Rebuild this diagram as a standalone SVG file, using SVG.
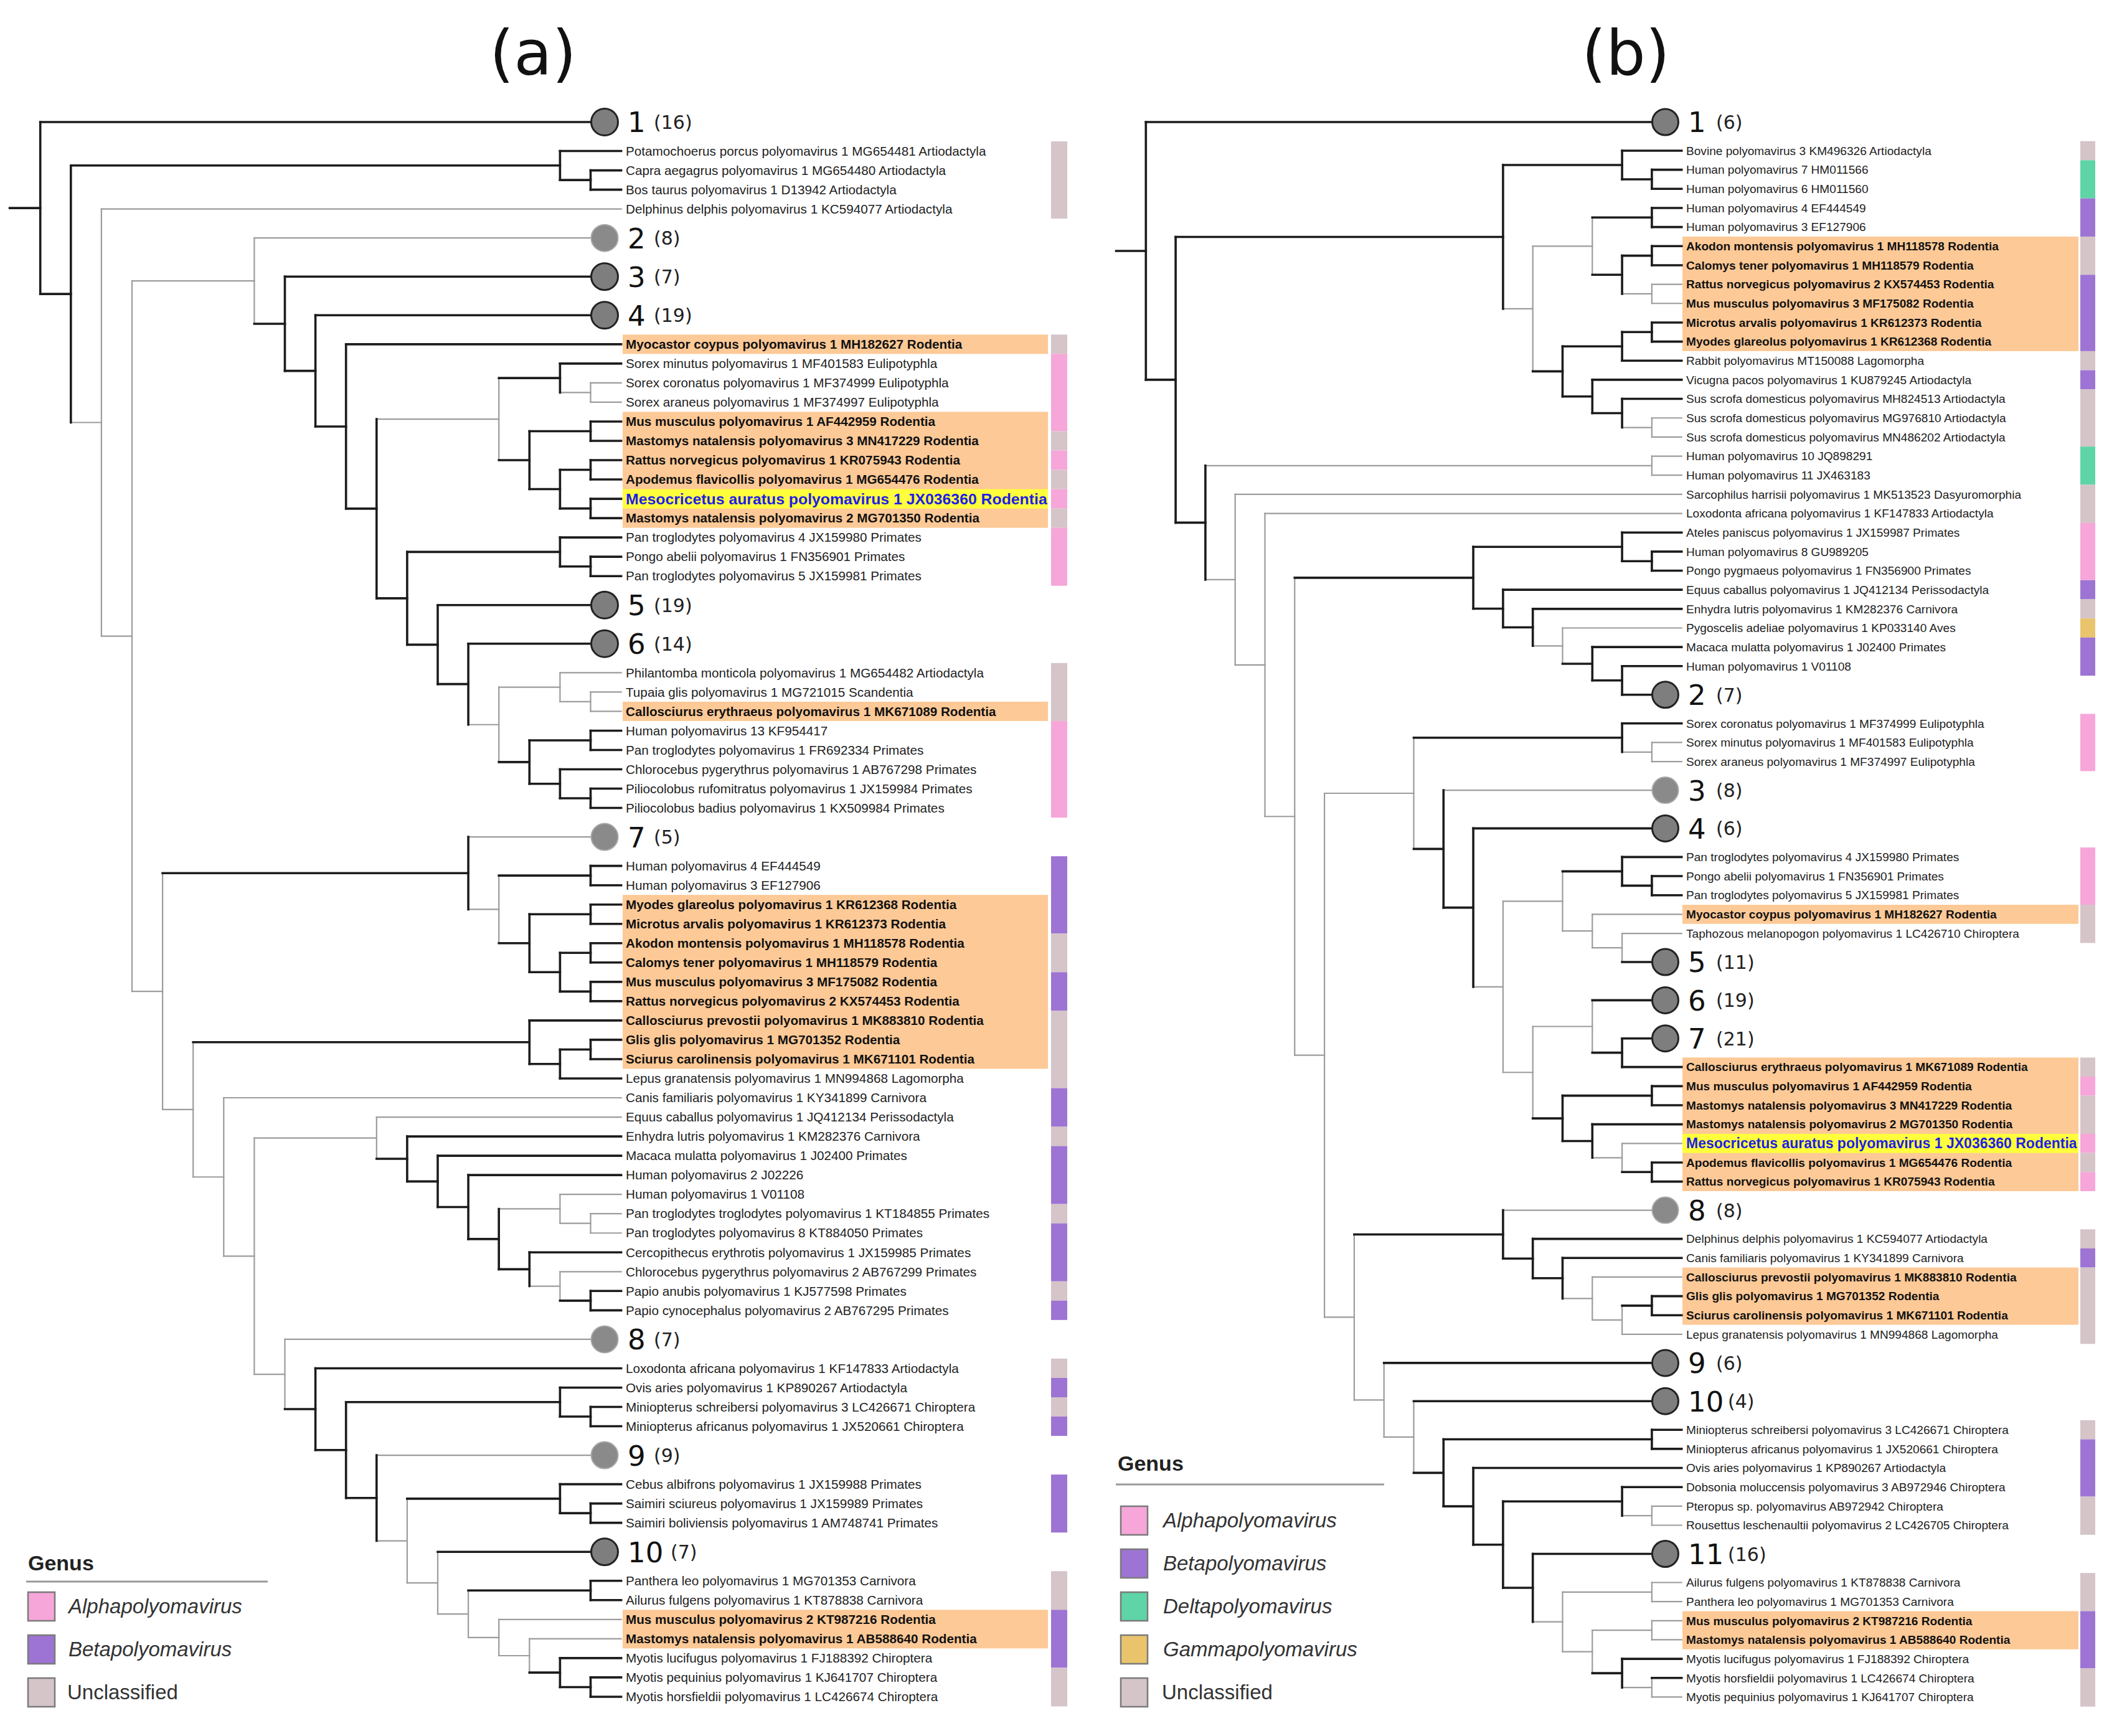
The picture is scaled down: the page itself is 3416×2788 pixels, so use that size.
<svg xmlns="http://www.w3.org/2000/svg" width="3416" height="2788" viewBox="0 0 3416 2788">
<style>
.k{fill:none;stroke:#1c1c1c;stroke-width:3.6px;stroke-linecap:square}
.g{fill:none;stroke:#9c9c9c;stroke-width:2.2px;stroke-linecap:square}
.hl{fill:#fdc996}
.hy{fill:#ffff3c}
.cA{fill:#f6a6d9}
.cB{fill:#9d74d3}
.cD{fill:#5fd4a6}
.cG{fill:#e9c46c}
.cU{fill:#d5c4c8}
.cd{fill:#7e7e7e;stroke:#222;stroke-width:3}
.cl{fill:#8a8a8a;stroke:#a8a8a8;stroke-width:2}
.t{font-family:"Liberation Sans",Arial,sans-serif}
.ln{font-size:20.7px;fill:#222}
.lb{font-size:20.7px;font-weight:bold;fill:#111}
.rn{font-size:19.1px;fill:#222}
.rb{font-size:19.1px;font-weight:bold;fill:#111}
.ms{font-weight:bold;fill:#1e1ee6}
.num{font-family:"DejaVu Sans",sans-serif;font-size:45px;fill:#111}
.par{font-family:"DejaVu Sans",sans-serif;font-size:30px;fill:#222}
.ttl{font-family:"DejaVu Sans",sans-serif;font-size:100px;fill:#111;text-anchor:middle}
.lgh{font-family:"Liberation Sans",Arial,sans-serif;font-size:34px;font-weight:bold;fill:#222}
.lgt{font-family:"Liberation Sans",Arial,sans-serif;font-size:33px;fill:#333}
.sw{stroke:#7a7a7a;stroke-width:2.5}
</style>
<rect x="0" y="0" width="3416" height="2788" fill="#ffffff"/>

<text class="ttl" x="856" y="120">(a)</text>
<text class="ttl" x="2611" y="120">(b)</text>

<!-- LEFT: highlights and genus bars -->
<g id="a-annotations" transform="translate(0,196) scale(1,31.03)">
<rect class="hl" x="1000" y="11" width="683" height="1"/>
<rect class="hl" x="1000" y="15" width="683" height="6"/>
<rect class="hy" x="1000" y="19" width="683" height="1"/>
<rect class="hl" x="1000" y="30" width="683" height="1"/>
<rect class="hl" x="1000" y="40" width="683" height="9"/>
<rect class="hl" x="1000" y="77" width="683" height="2"/>
<rect class="cU" x="1688" y="1" width="26" height="4"/>
<rect class="cU" x="1688" y="11" width="26" height="1"/>
<rect class="cA" x="1688" y="12" width="26" height="4"/>
<rect class="cU" x="1688" y="16" width="26" height="1"/>
<rect class="cA" x="1688" y="17" width="26" height="1"/>
<rect class="cU" x="1688" y="18" width="26" height="1"/>
<rect class="cA" x="1688" y="19" width="26" height="1"/>
<rect class="cU" x="1688" y="20" width="26" height="1"/>
<rect class="cA" x="1688" y="21" width="26" height="3"/>
<rect class="cU" x="1688" y="28" width="26" height="3"/>
<rect class="cA" x="1688" y="31" width="26" height="5"/>
<rect class="cB" x="1688" y="38" width="26" height="4"/>
<rect class="cU" x="1688" y="42" width="26" height="2"/>
<rect class="cB" x="1688" y="44" width="26" height="2"/>
<rect class="cU" x="1688" y="46" width="26" height="4"/>
<rect class="cB" x="1688" y="50" width="26" height="2"/>
<rect class="cU" x="1688" y="52" width="26" height="1"/>
<rect class="cB" x="1688" y="53" width="26" height="3"/>
<rect class="cU" x="1688" y="56" width="26" height="1"/>
<rect class="cB" x="1688" y="57" width="26" height="3"/>
<rect class="cU" x="1688" y="60" width="26" height="1"/>
<rect class="cB" x="1688" y="61" width="26" height="1"/>
<rect class="cU" x="1688" y="64" width="26" height="1"/>
<rect class="cB" x="1688" y="65" width="26" height="1"/>
<rect class="cU" x="1688" y="66" width="26" height="1"/>
<rect class="cB" x="1688" y="67" width="26" height="1"/>
<rect class="cB" x="1688" y="70" width="26" height="3"/>
<rect class="cU" x="1688" y="75" width="26" height="2"/>
<rect class="cB" x="1688" y="77" width="26" height="3"/>
<rect class="cU" x="1688" y="80" width="26" height="2"/>
</g>

<!-- RIGHT: highlights and genus bars -->
<g id="b-annotations" transform="translate(0,196) scale(1,30.66)">
<rect class="hl" x="2702" y="6" width="636" height="6"/>
<rect class="hl" x="2702" y="41" width="636" height="1"/>
<rect class="hl" x="2702" y="49" width="636" height="7"/>
<rect class="hy" x="2702" y="53" width="636" height="1"/>
<rect class="hl" x="2702" y="60" width="636" height="3"/>
<rect class="hl" x="2702" y="78" width="636" height="2"/>
<rect class="cU" x="3341" y="1" width="24" height="1"/>
<rect class="cD" x="3341" y="2" width="24" height="2"/>
<rect class="cB" x="3341" y="4" width="24" height="2"/>
<rect class="cU" x="3341" y="6" width="24" height="2"/>
<rect class="cB" x="3341" y="8" width="24" height="4"/>
<rect class="cU" x="3341" y="12" width="24" height="1"/>
<rect class="cB" x="3341" y="13" width="24" height="1"/>
<rect class="cU" x="3341" y="14" width="24" height="3"/>
<rect class="cD" x="3341" y="17" width="24" height="2"/>
<rect class="cU" x="3341" y="19" width="24" height="2"/>
<rect class="cA" x="3341" y="21" width="24" height="3"/>
<rect class="cB" x="3341" y="24" width="24" height="1"/>
<rect class="cU" x="3341" y="25" width="24" height="1"/>
<rect class="cG" x="3341" y="26" width="24" height="1"/>
<rect class="cB" x="3341" y="27" width="24" height="2"/>
<rect class="cA" x="3341" y="31" width="24" height="3"/>
<rect class="cA" x="3341" y="38" width="24" height="3"/>
<rect class="cU" x="3341" y="41" width="24" height="2"/>
<rect class="cU" x="3341" y="49" width="24" height="1"/>
<rect class="cA" x="3341" y="50" width="24" height="1"/>
<rect class="cU" x="3341" y="51" width="24" height="2"/>
<rect class="cA" x="3341" y="53" width="24" height="1"/>
<rect class="cU" x="3341" y="54" width="24" height="1"/>
<rect class="cA" x="3341" y="55" width="24" height="1"/>
<rect class="cU" x="3341" y="58" width="24" height="1"/>
<rect class="cB" x="3341" y="59" width="24" height="1"/>
<rect class="cU" x="3341" y="60" width="24" height="4"/>
<rect class="cU" x="3341" y="68" width="24" height="1"/>
<rect class="cB" x="3341" y="69" width="24" height="3"/>
<rect class="cU" x="3341" y="72" width="24" height="2"/>
<rect class="cU" x="3341" y="76" width="24" height="2"/>
<rect class="cB" x="3341" y="78" width="24" height="3"/>
<rect class="cU" x="3341" y="81" width="24" height="2"/>
</g>

<!-- LEFT connectors -->
<g id="a-connectors" transform="translate(15.6,196) scale(49.1,31.03)">
<path class="g" vector-effect="non-scaling-stroke" d="M2 15.55H3M3 4.5H20M3 26.605H4M4 8.22H8M8 6H19M12 15.375H16M18 14H19M19 13.5H20M19 14.5H20M15 31.1875H16M16 29.25H18M18 28.5H20M18 30H19M19 29.5H20M19 30.5H20M4 44.99H5M15 37H19M15 40.75H16M5 51.11H6M6 54.6H7M7 50.5H20M7 58.695H8M8 52.58H12M12 51.5H20M16 56.25H18M18 55.5H20M18 57H19M19 56.5H20M19 57.5H20M17 60.25H18M18 59.5H20M8 64.81H9M9 63H19M12 69H19M12 73.43H13M13 75.61H14M14 77.22H15M15 78.4375H16M16 77.5H20M16 79.375H17M17 78.5H20"/>
<path class="g" vector-effect="non-scaling-stroke" d="M3 4.5V26.605M4 8.22V44.99M8 6V10.44M16 13.25V17.5M19 13.5V14.5M16 29.25V33.125M18 28.5V30M19 29.5V30.5M5 38.875V51.11M16 39V42.5M6 47.625V54.6M7 50.5V58.695M8 52.58V64.81M12 51.5V53.66M18 55.5V57M19 56.5V57.5M18 59.5V61M9 63V66.615M13 71.25V75.61M14 74V77.22M15 76V78.4375M16 77.5V79.375M17 78.5V80.25"/>
<path class="k" vector-effect="non-scaling-stroke" d="M0 4.45H1M1 0H19M1 8.9H2M2 2.25H18M18 1.5H20M18 3H19M19 2.5H20M19 3.5H20M8 10.44H9M9 8H19M9 12.88H10M10 10H19M10 15.76H11M11 11.5H20M11 20.01H12M16 13.25H18M18 12.5H20M16 17.5H17M17 16H19M19 15.5H20M19 16.5H20M17 19H18M18 18H19M19 17.5H20M19 18.5H20M18 20H19M19 19.5H20M19 20.5H20M12 24.65H13M13 22.25H18M18 21.5H20M18 23H19M19 22.5H20M19 23.5H20M13 27.05H14M14 25H19M14 29.09H15M15 27H19M16 33.125H17M17 32H19M19 31.5H20M19 32.5H20M17 34.25H18M18 33.5H20M18 35H19M19 34.5H20M19 35.5H20M5 38.875H15M16 39H19M19 38.5H20M19 39.5H20M16 42.5H17M17 41H19M19 40.5H20M19 41.5H20M17 44H18M18 43H19M19 42.5H20M19 43.5H20M18 45H19M19 44.5H20M19 45.5H20M6 47.625H17M17 46.5H20M17 48.75H18M18 48H19M19 47.5H20M19 48.5H20M18 49.5H20M12 53.66H13M13 52.5H20M13 54.83H14M14 53.5H20M14 56.156H15M15 54.5H20M15 57.8125H16M16 59.375H17M17 58.5H20M18 61H19M19 60.5H20M19 61.5H20M9 66.615H10M10 64.5H20M10 68.73H11M11 66.25H18M18 65.5H20M18 67H19M19 66.5H20M19 67.5H20M11 71.215H12M13 71.25H18M18 70.5H20M18 72H19M19 71.5H20M19 72.5H20M14 74H19M15 76H19M19 75.5H20M19 76.5H20M17 80.25H18M18 79.5H20M18 81H19M19 80.5H20M19 81.5H20"/>
<path class="k" vector-effect="non-scaling-stroke" d="M1 0V8.9M2 2.25V15.55M18 1.5V3M19 2.5V3.5M9 8V12.88M10 10V15.76M11 11.5V20.01M12 15.375V24.65M18 12.5V14M17 16V19M19 15.5V16.5M18 18V20M19 17.5V18.5M19 19.5V20.5M13 22.25V27.05M18 21.5V23M19 22.5V23.5M14 25V29.09M15 27V31.1875M17 32V34.25M19 31.5V32.5M18 33.5V35M19 34.5V35.5M15 37V40.75M19 38.5V39.5M17 41V44M19 40.5V41.5M18 43V45M19 42.5V43.5M19 44.5V45.5M17 46.5V48.75M18 48V49.5M19 47.5V48.5M13 52.5V54.83M14 53.5V56.156M15 54.5V57.8125M16 56.25V59.375M17 58.5V60.25M19 60.5V61.5M10 64.5V68.73M11 66.25V71.215M18 65.5V67M19 66.5V67.5M12 69V73.43M18 70.5V72M19 71.5V72.5M19 75.5V76.5M18 79.5V81M19 80.5V81.5"/>
</g>

<!-- RIGHT connectors -->
<g id="b-connectors" transform="translate(1792.5,196) scale(47.8,30.66)">
<path class="g" vector-effect="non-scaling-stroke" d="M13 9.78H14M14 6.5H16M17 9H18M18 8.5H19M18 9.5H19M17 16H18M18 15.5H19M18 16.5H19M3 18H18M18 17.5H19M18 18.5H19M3 23.97H4M4 19.5H19M4 28.44H5M5 20.5H19M5 36.375H6M14 27.44H15M15 26.5H19M6 48.88H7M7 35.16H10M17 33H18M18 32.5H19M18 33.5H19M11 35H18M12 45.3H13M13 40.8125H15M15 42.375H16M16 41.5H19M16 43.25H17M17 42.5H19M13 49.78H14M14 47.375H16M16 54.25H17M17 53.5H19M7 62.6H8M13 57H18M15 61.625H16M16 60.5H19M16 62.75H17M17 63.5H19M8 66.94H9M9 68.88H10M17 73H18M18 72.5H19M18 73.5H19M14 78.56H15M15 77H18M18 76.5H19M18 77.5H19M15 80.125H16M16 79H18M18 78.5H19M18 79.5H19M17 82H18M18 82.5H19"/>
<path class="g" vector-effect="non-scaling-stroke" d="M14 6.5V13.06M16 5V8M18 8.5V9.5M18 15.5V16.5M18 17.5V18.5M4 19.5V28.44M5 20.5V36.375M6 23.87V48.88M15 26.5V28.375M7 35.16V62.6M10 32.25V38.075M18 32.5V33.5M13 40.8125V49.78M15 39.25V42.375M16 41.5V43.25M17 42.5V44M14 47.375V52.19M16 46V48.75M17 53.5V55M8 58.27V66.94M16 60.5V62.75M17 62V63.5M9 65V68.88M10 67V70.755M18 72.5V73.5M15 77V80.125M18 76.5V77.5M16 79V81.25M18 78.5V79.5M18 81.5V82.5"/>
<path class="k" vector-effect="non-scaling-stroke" d="M0 6.75H1M1 0H18M1 13.5H2M2 6.016H13M13 2.25H17M17 1.5H19M17 3H18M18 2.5H19M18 3.5H19M16 5H18M18 4.5H19M18 5.5H19M16 8H17M17 7H18M18 6.5H19M18 7.5H19M14 13.06H15M15 11.75H17M17 11H18M18 10.5H19M18 11.5H19M17 12.5H19M15 14.375H16M16 13.5H19M16 15.25H17M17 14.5H19M2 20.985H3M6 23.87H12M12 22.25H17M17 21.5H19M17 23H18M18 22.5H19M18 23.5H19M12 25.49H13M13 24.5H19M13 26.47H14M14 25.5H19M15 28.375H16M16 27.5H19M16 29.25H17M17 28.5H19M17 30H18M10 32.25H17M17 31.5H19M10 38.075H11M11 41.15H12M12 37H18M15 39.25H17M17 38.5H19M17 40H18M18 39.5H19M18 40.5H19M17 44H18M16 46H18M16 48.75H17M17 48H18M17 49.5H19M14 52.19H15M15 51H18M18 50.5H19M18 51.5H19M15 53.375H16M16 52.5H19M17 55H18M18 54.5H19M18 55.5H19M8 58.27H13M13 59.53H14M14 58.5H19M14 60.56H15M15 59.5H19M17 62H18M18 61.5H19M18 62.5H19M9 65H18M10 67H18M10 70.755H11M11 69H18M18 68.5H19M18 69.5H19M11 72.51H12M12 70.5H19M12 74.52H13M13 72.25H17M17 71.5H19M13 76.78H14M14 75H18M16 81.25H17M17 80.5H19M18 81.5H19"/>
<path class="k" vector-effect="non-scaling-stroke" d="M1 0V13.5M2 6.016V20.985M13 2.25V9.78M17 1.5V3M18 2.5V3.5M18 4.5V5.5M17 7V9M18 6.5V7.5M15 11.75V14.375M17 11V12.5M18 10.5V11.5M16 13.5V15.25M17 14.5V16M3 18V23.97M12 22.25V25.49M17 21.5V23M18 22.5V23.5M13 24.5V26.47M14 25.5V27.44M16 27.5V29.25M17 28.5V30M17 31.5V33M11 35V41.15M12 37V45.3M17 38.5V40M18 39.5V40.5M17 48V49.5M15 51V53.375M18 50.5V51.5M16 52.5V54.25M18 54.5V55.5M13 57V59.53M14 58.5V60.56M15 59.5V61.625M18 61.5V62.5M11 69V72.51M18 68.5V69.5M12 70.5V74.52M13 72.25V76.78M17 71.5V73M14 75V78.56M17 80.5V82"/>
</g>

<!-- LEFT clade nodes -->
<g id="a-clade-1"><circle class="cd" cx="971" cy="196" r="21.5"/><text class="num" x="1008" y="212.4">1</text><text class="par" x="1050" y="207">(16)</text></g>
<g id="a-clade-2"><circle class="cl" cx="971" cy="382.2" r="21.5"/><text class="num" x="1008" y="398.6">2</text><text class="par" x="1050" y="393.2">(8)</text></g>
<g id="a-clade-3"><circle class="cd" cx="971" cy="444.2" r="21.5"/><text class="num" x="1008" y="460.6">3</text><text class="par" x="1050" y="455.2">(7)</text></g>
<g id="a-clade-4"><circle class="cd" cx="971" cy="506.3" r="21.5"/><text class="num" x="1008" y="522.7">4</text><text class="par" x="1050" y="517.3">(19)</text></g>
<g id="a-clade-5"><circle class="cd" cx="971" cy="971.8" r="21.5"/><text class="num" x="1008" y="988.2">5</text><text class="par" x="1050" y="982.8">(19)</text></g>
<g id="a-clade-6"><circle class="cd" cx="971" cy="1033.8" r="21.5"/><text class="num" x="1008" y="1050.2">6</text><text class="par" x="1050" y="1044.8">(14)</text></g>
<g id="a-clade-7"><circle class="cl" cx="971" cy="1344.1" r="21.5"/><text class="num" x="1008" y="1360.5">7</text><text class="par" x="1050" y="1355.1">(5)</text></g>
<g id="a-clade-8"><circle class="cl" cx="971" cy="2150.9" r="21.5"/><text class="num" x="1008" y="2167.3">8</text><text class="par" x="1050" y="2161.9">(7)</text></g>
<g id="a-clade-9"><circle class="cl" cx="971" cy="2337.1" r="21.5"/><text class="num" x="1008" y="2353.5">9</text><text class="par" x="1050" y="2348.1">(9)</text></g>
<g id="a-clade-10"><circle class="cd" cx="971" cy="2492.2" r="21.5"/><text class="num" x="1008" y="2508.6">10</text><text class="par" x="1077" y="2503.2">(7)</text></g>

<!-- RIGHT clade nodes -->
<g id="b-clade-1"><circle class="cd" cx="2674.5" cy="196" r="21"/><text class="num" x="2711" y="212.4">1</text><text class="par" x="2756" y="207">(6)</text></g>
<g id="b-clade-2"><circle class="cd" cx="2674.5" cy="1115.8" r="21"/><text class="num" x="2711" y="1132.2">2</text><text class="par" x="2756" y="1126.8">(7)</text></g>
<g id="b-clade-3"><circle class="cl" cx="2674.5" cy="1269.1" r="21"/><text class="num" x="2711" y="1285.5">3</text><text class="par" x="2756" y="1280.1">(8)</text></g>
<g id="b-clade-4"><circle class="cd" cx="2674.5" cy="1330.4" r="21"/><text class="num" x="2711" y="1346.8">4</text><text class="par" x="2756" y="1341.4">(6)</text></g>
<g id="b-clade-5"><circle class="cd" cx="2674.5" cy="1545" r="21"/><text class="num" x="2711" y="1561.4">5</text><text class="par" x="2756" y="1556">(11)</text></g>
<g id="b-clade-6"><circle class="cd" cx="2674.5" cy="1606.4" r="21"/><text class="num" x="2711" y="1622.8">6</text><text class="par" x="2756" y="1617.4">(19)</text></g>
<g id="b-clade-7"><circle class="cd" cx="2674.5" cy="1667.7" r="21"/><text class="num" x="2711" y="1684.1">7</text><text class="par" x="2756" y="1678.7">(21)</text></g>
<g id="b-clade-8"><circle class="cl" cx="2674.5" cy="1943.6" r="21"/><text class="num" x="2711" y="1960">8</text><text class="par" x="2756" y="1954.6">(8)</text></g>
<g id="b-clade-9"><circle class="cd" cx="2674.5" cy="2188.9" r="21"/><text class="num" x="2711" y="2205.3">9</text><text class="par" x="2756" y="2199.9">(6)</text></g>
<g id="b-clade-10"><circle class="cd" cx="2674.5" cy="2250.2" r="21"/><text class="num" x="2711" y="2266.6">10</text><text class="par" x="2775" y="2261.2">(4)</text></g>
<g id="b-clade-11"><circle class="cd" cx="2674.5" cy="2495.5" r="21"/><text class="num" x="2711" y="2511.9">11</text><text class="par" x="2775" y="2506.5">(16)</text></g>

<!-- LEFT leaves -->
<g id="a-leaves" class="t" transform="translate(1005,7.3)">
<g id="a01"><text class="ln" y="242.5">Potamochoerus porcus polyomavirus 1 MG654481 Artiodactyla</text></g>
<g id="a02"><text class="ln" y="273.6">Capra aegagrus polyomavirus 1 MG654480 Artiodactyla</text></g>
<g id="a03"><text class="ln" y="304.6">Bos taurus polyomavirus 1 D13942 Artiodactyla</text></g>
<g id="a04"><text class="ln" y="335.6">Delphinus delphis polyomavirus 1 KC594077 Artiodactyla</text></g>
<g id="a05"><text class="lb" y="552.8">Myocastor coypus polyomavirus 1 MH182627 Rodentia</text></g>
<g id="a06"><text class="ln" y="583.9">Sorex minutus polyomavirus 1 MF401583 Eulipotyphla</text></g>
<g id="a07"><text class="ln" y="614.9">Sorex coronatus polyomavirus 1 MF374999 Eulipotyphla</text></g>
<g id="a08"><text class="ln" y="645.9">Sorex araneus polyomavirus 1 MF374997 Eulipotyphla</text></g>
<g id="a09"><text class="lb" y="677">Mus musculus polyomavirus 1 AF442959 Rodentia</text></g>
<g id="a10"><text class="lb" y="708">Mastomys natalensis polyomavirus 3 MN417229 Rodentia</text></g>
<g id="a11"><text class="lb" y="739">Rattus norvegicus polyomavirus 1 KR075943 Rodentia</text></g>
<g id="a12"><text class="lb" y="770.1">Apodemus flavicollis polyomavirus 1 MG654476 Rodentia</text></g>
<g id="a13"><text class="ms" font-size="24.8" y="802.7">Mesocricetus auratus polyomavirus 1 JX036360 Rodentia</text></g>
<g id="a14"><text class="lb" y="832.1">Mastomys natalensis polyomavirus 2 MG701350 Rodentia</text></g>
<g id="a15"><text class="ln" y="863.1">Pan troglodytes polyomavirus 4 JX159980 Primates</text></g>
<g id="a16"><text class="ln" y="894.2">Pongo abelii polyomavirus 1 FN356901 Primates</text></g>
<g id="a17"><text class="ln" y="925.2">Pan troglodytes polyomavirus 5 JX159981 Primates</text></g>
<g id="a18"><text class="ln" y="1080.4">Philantomba monticola polyomavirus 1 MG654482 Artiodactyla</text></g>
<g id="a19"><text class="ln" y="1111.4">Tupaia glis polyomavirus 1 MG721015 Scandentia</text></g>
<g id="a20"><text class="lb" y="1142.4">Callosciurus erythraeus polyomavirus 1 MK671089 Rodentia</text></g>
<g id="a21"><text class="ln" y="1173.4">Human polyomavirus 13 KF954417</text></g>
<g id="a22"><text class="ln" y="1204.5">Pan troglodytes polyomavirus 1 FR692334 Primates</text></g>
<g id="a23"><text class="ln" y="1235.5">Chlorocebus pygerythrus polyomavirus 1 AB767298 Primates</text></g>
<g id="a24"><text class="ln" y="1266.5">Piliocolobus rufomitratus polyomavirus 1 JX159984 Primates</text></g>
<g id="a25"><text class="ln" y="1297.6">Piliocolobus badius polyomavirus 1 KX509984 Primates</text></g>
<g id="a26"><text class="ln" y="1390.7">Human polyomavirus 4 EF444549</text></g>
<g id="a27"><text class="ln" y="1421.7">Human polyomavirus 3 EF127906</text></g>
<g id="a28"><text class="lb" y="1452.7">Myodes glareolus polyomavirus 1 KR612368 Rodentia</text></g>
<g id="a29"><text class="lb" y="1483.7">Microtus arvalis polyomavirus 1 KR612373 Rodentia</text></g>
<g id="a30"><text class="lb" y="1514.8">Akodon montensis polyomavirus 1 MH118578 Rodentia</text></g>
<g id="a31"><text class="lb" y="1545.8">Calomys tener polyomavirus 1 MH118579 Rodentia</text></g>
<g id="a32"><text class="lb" y="1576.8">Mus musculus polyomavirus 3 MF175082 Rodentia</text></g>
<g id="a33"><text class="lb" y="1607.9">Rattus norvegicus polyomavirus 2 KX574453 Rodentia</text></g>
<g id="a34"><text class="lb" y="1638.9">Callosciurus prevostii polyomavirus 1 MK883810 Rodentia</text></g>
<g id="a35"><text class="lb" y="1669.9">Glis glis polyomavirus 1 MG701352 Rodentia</text></g>
<g id="a36"><text class="lb" y="1701">Sciurus carolinensis polyomavirus 1 MK671101 Rodentia</text></g>
<g id="a37"><text class="ln" y="1732">Lepus granatensis polyomavirus 1 MN994868 Lagomorpha</text></g>
<g id="a38"><text class="ln" y="1763">Canis familiaris polyomavirus 1 KY341899 Carnivora</text></g>
<g id="a39"><text class="ln" y="1794">Equus caballus polyomavirus 1 JQ412134 Perissodactyla</text></g>
<g id="a40"><text class="ln" y="1825.1">Enhydra lutris polyomavirus 1 KM282376 Carnivora</text></g>
<g id="a41"><text class="ln" y="1856.1">Macaca mulatta polyomavirus 1 J02400 Primates</text></g>
<g id="a42"><text class="ln" y="1887.1">Human polyomavirus 2 J02226</text></g>
<g id="a43"><text class="ln" y="1918.2">Human polyomavirus 1 V01108</text></g>
<g id="a44"><text class="ln" y="1949.2">Pan troglodytes troglodytes polyomavirus 1 KT184855 Primates</text></g>
<g id="a45"><text class="ln" y="1980.2">Pan troglodytes polyomavirus 8 KT884050 Primates</text></g>
<g id="a46"><text class="ln" y="2011.3">Cercopithecus erythrotis polyomavirus 1 JX159985 Primates</text></g>
<g id="a47"><text class="ln" y="2042.3">Chlorocebus pygerythrus polyomavirus 2 AB767299 Primates</text></g>
<g id="a48"><text class="ln" y="2073.3">Papio anubis polyomavirus 1 KJ577598 Primates</text></g>
<g id="a49"><text class="ln" y="2104.3">Papio cynocephalus polyomavirus 2 AB767295 Primates</text></g>
<g id="a50"><text class="ln" y="2197.4">Loxodonta africana polyomavirus 1 KF147833 Artiodactyla</text></g>
<g id="a51"><text class="ln" y="2228.5">Ovis aries polyomavirus 1 KP890267 Artiodactyla</text></g>
<g id="a52"><text class="ln" y="2259.5">Miniopterus schreibersi polyomavirus 3 LC426671 Chiroptera</text></g>
<g id="a53"><text class="ln" y="2290.5">Miniopterus africanus polyomavirus 1 JX520661 Chiroptera</text></g>
<g id="a54"><text class="ln" y="2383.6">Cebus albifrons polyomavirus 1 JX159988 Primates</text></g>
<g id="a55"><text class="ln" y="2414.6">Saimiri sciureus polyomavirus 1 JX159989 Primates</text></g>
<g id="a56"><text class="ln" y="2445.7">Saimiri boliviensis polyomavirus 1 AM748741 Primates</text></g>
<g id="a57"><text class="ln" y="2538.8">Panthera leo polyomavirus 1 MG701353 Carnivora</text></g>
<g id="a58"><text class="ln" y="2569.8">Ailurus fulgens polyomavirus 1 KT878838 Carnivora</text></g>
<g id="a59"><text class="lb" y="2600.8">Mus musculus polyomavirus 2 KT987216 Rodentia</text></g>
<g id="a60"><text class="lb" y="2631.9">Mastomys natalensis polyomavirus 1 AB588640 Rodentia</text></g>
<g id="a61"><text class="ln" y="2662.9">Myotis lucifugus polyomavirus 1 FJ188392 Chiroptera</text></g>
<g id="a62"><text class="ln" y="2693.9">Myotis pequinius polyomavirus 1 KJ641707 Chiroptera</text></g>
<g id="a63"><text class="ln" y="2724.9">Myotis horsfieldii polyomavirus 1 LC426674 Chiroptera</text></g>
</g>

<!-- RIGHT leaves -->
<g id="b-leaves" class="t" transform="translate(2708,6.8)">
<g id="b01"><text class="rn" y="242">Bovine polyomavirus 3 KM496326 Artiodactyla</text></g>
<g id="b02"><text class="rn" y="272.7">Human polyomavirus 7 HM011566</text></g>
<g id="b03"><text class="rn" y="303.3">Human polyomavirus 6 HM011560</text></g>
<g id="b04"><text class="rn" y="334">Human polyomavirus 4 EF444549</text></g>
<g id="b05"><text class="rn" y="364.6">Human polyomavirus 3 EF127906</text></g>
<g id="b06"><text class="rb" y="395.3">Akodon montensis polyomavirus 1 MH118578 Rodentia</text></g>
<g id="b07"><text class="rb" y="426">Calomys tener polyomavirus 1 MH118579 Rodentia</text></g>
<g id="b08"><text class="rb" y="456.6">Rattus norvegicus polyomavirus 2 KX574453 Rodentia</text></g>
<g id="b09"><text class="rb" y="487.3">Mus musculus polyomavirus 3 MF175082 Rodentia</text></g>
<g id="b10"><text class="rb" y="517.9">Microtus arvalis polyomavirus 1 KR612373 Rodentia</text></g>
<g id="b11"><text class="rb" y="548.6">Myodes glareolus polyomavirus 1 KR612368 Rodentia</text></g>
<g id="b12"><text class="rn" y="579.3">Rabbit polyomavirus MT150088 Lagomorpha</text></g>
<g id="b13"><text class="rn" y="609.9">Vicugna pacos polyomavirus 1 KU879245 Artiodactyla</text></g>
<g id="b14"><text class="rn" y="640.6">Sus scrofa domesticus polyomavirus MH824513 Artiodactyla</text></g>
<g id="b15"><text class="rn" y="671.2">Sus scrofa domesticus polyomavirus MG976810 Artiodactyla</text></g>
<g id="b16"><text class="rn" y="701.9">Sus scrofa domesticus polyomavirus MN486202 Artiodactyla</text></g>
<g id="b17"><text class="rn" y="732.6">Human polyomavirus 10 JQ898291</text></g>
<g id="b18"><text class="rn" y="763.2">Human polyomavirus 11 JX463183</text></g>
<g id="b19"><text class="rn" y="793.9">Sarcophilus harrisii polyomavirus 1 MK513523 Dasyuromorphia</text></g>
<g id="b20"><text class="rn" y="824.5">Loxodonta africana polyomavirus 1 KF147833 Artiodactyla</text></g>
<g id="b21"><text class="rn" y="855.2">Ateles paniscus polyomavirus 1 JX159987 Primates</text></g>
<g id="b22"><text class="rn" y="885.9">Human polyomavirus 8 GU989205</text></g>
<g id="b23"><text class="rn" y="916.5">Pongo pygmaeus polyomavirus 1 FN356900 Primates</text></g>
<g id="b24"><text class="rn" y="947.2">Equus caballus polyomavirus 1 JQ412134 Perissodactyla</text></g>
<g id="b25"><text class="rn" y="977.8">Enhydra lutris polyomavirus 1 KM282376 Carnivora</text></g>
<g id="b26"><text class="rn" y="1008.5">Pygoscelis adeliae polyomavirus 1 KP033140 Aves</text></g>
<g id="b27"><text class="rn" y="1039.2">Macaca mulatta polyomavirus 1 J02400 Primates</text></g>
<g id="b28"><text class="rn" y="1069.8">Human polyomavirus 1 V01108</text></g>
<g id="b29"><text class="rn" y="1161.8">Sorex coronatus polyomavirus 1 MF374999 Eulipotyphla</text></g>
<g id="b30"><text class="rn" y="1192.5">Sorex minutus polyomavirus 1 MF401583 Eulipotyphla</text></g>
<g id="b31"><text class="rn" y="1223.1">Sorex araneus polyomavirus 1 MF374997 Eulipotyphla</text></g>
<g id="b32"><text class="rn" y="1376.4">Pan troglodytes polyomavirus 4 JX159980 Primates</text></g>
<g id="b33"><text class="rn" y="1407.1">Pongo abelii polyomavirus 1 FN356901 Primates</text></g>
<g id="b34"><text class="rn" y="1437.7">Pan troglodytes polyomavirus 5 JX159981 Primates</text></g>
<g id="b35"><text class="rb" y="1468.4">Myocastor coypus polyomavirus 1 MH182627 Rodentia</text></g>
<g id="b36"><text class="rn" y="1499.1">Taphozous melanopogon polyomavirus 1 LC426710 Chiroptera</text></g>
<g id="b37"><text class="rb" y="1713.7">Callosciurus erythraeus polyomavirus 1 MK671089 Rodentia</text></g>
<g id="b38"><text class="rb" y="1744.3">Mus musculus polyomavirus 1 AF442959 Rodentia</text></g>
<g id="b39"><text class="rb" y="1775">Mastomys natalensis polyomavirus 3 MN417229 Rodentia</text></g>
<g id="b40"><text class="rb" y="1805.7">Mastomys natalensis polyomavirus 2 MG701350 Rodentia</text></g>
<g id="b41"><text class="ms" font-size="23" y="1837.7">Mesocricetus auratus polyomavirus 1 JX036360 Rodentia</text></g>
<g id="b42"><text class="rb" y="1867">Apodemus flavicollis polyomavirus 1 MG654476 Rodentia</text></g>
<g id="b43"><text class="rb" y="1897.6">Rattus norvegicus polyomavirus 1 KR075943 Rodentia</text></g>
<g id="b44"><text class="rn" y="1989.6">Delphinus delphis polyomavirus 1 KC594077 Artiodactyla</text></g>
<g id="b45"><text class="rn" y="2020.3">Canis familiaris polyomavirus 1 KY341899 Carnivora</text></g>
<g id="b46"><text class="rb" y="2050.9">Callosciurus prevostii polyomavirus 1 MK883810 Rodentia</text></g>
<g id="b47"><text class="rb" y="2081.6">Glis glis polyomavirus 1 MG701352 Rodentia</text></g>
<g id="b48"><text class="rb" y="2112.3">Sciurus carolinensis polyomavirus 1 MK671101 Rodentia</text></g>
<g id="b49"><text class="rn" y="2142.9">Lepus granatensis polyomavirus 1 MN994868 Lagomorpha</text></g>
<g id="b50"><text class="rn" y="2296.2">Miniopterus schreibersi polyomavirus 3 LC426671 Chiroptera</text></g>
<g id="b51"><text class="rn" y="2326.9">Miniopterus africanus polyomavirus 1 JX520661 Chiroptera</text></g>
<g id="b52"><text class="rn" y="2357.5">Ovis aries polyomavirus 1 KP890267 Artiodactyla</text></g>
<g id="b53"><text class="rn" y="2388.2">Dobsonia moluccensis polyomavirus 3 AB972946 Chiroptera</text></g>
<g id="b54"><text class="rn" y="2418.9">Pteropus sp. polyomavirus AB972942 Chiroptera</text></g>
<g id="b55"><text class="rn" y="2449.5">Rousettus leschenaultii polyomavirus 2 LC426705 Chiroptera</text></g>
<g id="b56"><text class="rn" y="2541.5">Ailurus fulgens polyomavirus 1 KT878838 Carnivora</text></g>
<g id="b57"><text class="rn" y="2572.2">Panthera leo polyomavirus 1 MG701353 Carnivora</text></g>
<g id="b58"><text class="rb" y="2602.8">Mus musculus polyomavirus 2 KT987216 Rodentia</text></g>
<g id="b59"><text class="rb" y="2633.5">Mastomys natalensis polyomavirus 1 AB588640 Rodentia</text></g>
<g id="b60"><text class="rn" y="2664.1">Myotis lucifugus polyomavirus 1 FJ188392 Chiroptera</text></g>
<g id="b61"><text class="rn" y="2694.8">Myotis horsfieldii polyomavirus 1 LC426674 Chiroptera</text></g>
<g id="b62"><text class="rn" y="2725.5">Myotis pequinius polyomavirus 1 KJ641707 Chiroptera</text></g>
</g>

<!-- LEFT legend -->
<g id="a-legend">
<text class="lgh" x="45" y="2522">Genus</text>
<line x1="42" y1="2540" x2="430" y2="2540" stroke="#9a9a9a" stroke-width="3"/>
<rect class="sw cA" x="45" y="2557" width="43" height="46"/>
<text class="lgt" x="110" y="2591" font-style="italic">Alphapolyomavirus</text>
<rect class="sw cB" x="45" y="2626" width="43" height="46"/>
<text class="lgt" x="110" y="2660" font-style="italic">Betapolyomavirus</text>
<rect class="sw cU" x="45" y="2695" width="43" height="46"/>
<text class="lgt" x="108" y="2729">Unclassified</text>
</g>

<!-- RIGHT legend -->
<g id="b-legend">
<text class="lgh" x="1795" y="2362">Genus</text>
<line x1="1792" y1="2384" x2="2223" y2="2384" stroke="#9a9a9a" stroke-width="3"/>
<rect class="sw cA" x="1800" y="2419" width="43" height="46"/>
<text class="lgt" x="1868" y="2453" font-style="italic">Alphapolyomavirus</text>
<rect class="sw cB" x="1800" y="2488" width="43" height="46"/>
<text class="lgt" x="1868" y="2522" font-style="italic">Betapolyomavirus</text>
<rect class="sw cD" x="1800" y="2557" width="43" height="46"/>
<text class="lgt" x="1868" y="2591" font-style="italic">Deltapolyomavirus</text>
<rect class="sw cG" x="1800" y="2626" width="43" height="46"/>
<text class="lgt" x="1868" y="2660" font-style="italic">Gammapolyomavirus</text>
<rect class="sw cU" x="1800" y="2695" width="43" height="46"/>
<text class="lgt" x="1866" y="2729">Unclassified</text>
</g>
</svg>
